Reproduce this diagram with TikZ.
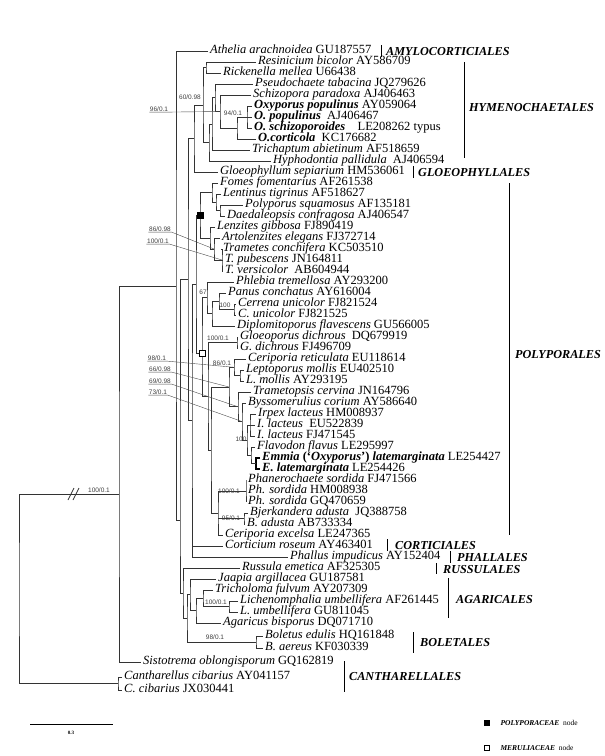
\documentclass[tikz,border=0pt]{standalone}
\usepackage{fontspec}
\setmainfont{Liberation Serif}
\newfontfamily\bsfont{Liberation Sans}

\begin{document}
\begin{tikzpicture}[x=1pt,y=-1pt,
  leaf/.style={anchor=west,inner xsep=2pt,inner ysep=0pt,text height=7.5pt,text depth=2pt,font=\fontsize{12.5}{13}\selectfont},
  br/.style={draw=black!80,line width=0.7pt},
  bs/.style={font=\bsfont\fontsize{6.5}{7}\selectfont,text=black!75,inner sep=0.5pt},
  lead/.style={draw=black!70,line width=0.4pt},
  ord/.style={anchor=west,inner sep=0pt,text height=8pt,text depth=0pt,font=\bfseries\itshape\fontsize{12.2}{13}\selectfont},
  obar/.style={draw=black,line width=0.9pt},
  nodemark/.style={draw=black,line width=0.6pt,minimum size=6pt,inner sep=0pt}]
\useasboundingbox (0,0) rectangle (605,756);

% leaves
\path (208,51) node[leaf] (L1) {\textit{Athelia arachnoidea} GU187557};
\path (256,62) node[leaf] (L2) {\textit{Resinicium bicolor} AY586709};
\path (221,73) node[leaf] (L3) {\textit{Rickenella mellea} U66438};
\path (253,84) node[leaf] (L4) {\textit{Pseudochaete tabacina} JQ279626};
\path (251,95) node[leaf] (L5) {\textit{Schizopora paradoxa} AJ406463};
\path (252,106) node[leaf] (L6) {\textbf{\textit{Oxyporus populinus}} AY059064};
\path (252,117) node[leaf] (L7) {\textbf{\textit{O. populinus}}\enspace AJ406467};
\path (252,128) node[leaf] (L8) {\textbf{\textit{O. schizoporoides}}\quad LE208262 typus};
\path (256,139) node[leaf] (L9) {\textbf{\textit{O.corticola}}\enspace KC176682};
\path (250,150) node[leaf] (L10) {\textit{Trichaptum abietinum} AF518659};
\path (271,161) node[leaf] (L11) {\textit{Hyphodontia pallidula}\enspace AJ406594};
\path (218,172) node[leaf] (L12) {\textit{Gloeophyllum sepiarium} HM536061};
\path (218,183) node[leaf] (L13) {\textit{Fomes fomentarius} AF261538};
\path (221,194) node[leaf] (L14) {\textit{Lentinus tigrinus} AF518627};
\path (243,205) node[leaf] (L15) {\textit{Polyporus squamosus} AF135181};
\path (225,216) node[leaf] (L16) {\textit{Daedaleopsis confragosa} AJ406547};
\path (215,227) node[leaf] (L17) {\textit{Lenzites gibbosa} FJ890419};
\path (220,238) node[leaf] (L18) {\textit{Artolenzites elegans} FJ372714};
\path (221,249) node[leaf] (L19) {\textit{Trametes conchifera} KC503510};
\path (223,260) node[leaf] (L20) {\textit{T. pubescens} JN164811};
\path (223,271) node[leaf] (L21) {\textit{T. versicolor}\enspace AB604944};
\path (234,282) node[leaf] (L22) {\textit{Phlebia tremellosa} AY293200};
\path (226,293) node[leaf] (L23) {\textit{Panus conchatus} AY616004};
\path (236,304) node[leaf] (L24) {\textit{Cerrena unicolor} FJ821524};
\path (236,315) node[leaf] (L25) {\textit{C. unicolor} FJ821525};
\path (235,326) node[leaf] (L26) {\textit{Diplomitoporus flavescens} GU566005};
\path (238,337) node[leaf] (L27) {\textit{Gloeoporus dichrous}\enspace DQ679919};
\path (238,348) node[leaf] (L28) {\textit{G. dichrous} FJ496709};
\path (246,359) node[leaf] (L29) {\textit{Ceriporia reticulata} EU118614};
\path (244,370) node[leaf] (L30) {\textit{Leptoporus mollis} EU402510};
\path (244,381) node[leaf] (L31) {\textit{L. mollis} AY293195};
\path (251,392) node[leaf] (L32) {\textit{Trametopsis cervina} JN164796};
\path (246,403) node[leaf] (L33) {\textit{Byssomerulius corium} AY586640};
\path (256,414) node[leaf] (L34) {\textit{Irpex lacteus} HM008937};
\path (255,425) node[leaf] (L35) {\textit{I. lacteus}\enspace EU522839};
\path (255,436) node[leaf] (L36) {\textit{I. lacteus} FJ471545};
\path (255,447) node[leaf] (L37) {\textit{Flavodon flavus} LE295997};
\path (260,458) node[leaf] (L38) {\textbf{\textit{Emmia} (`\textit{Oxyporus}') \textit{latemarginata}} LE254427};
\path (260,469) node[leaf] (L39) {\textbf{\textit{E. latemarginata}} LE254426};
\path (246,480) node[leaf] (L40) {\textit{Phanerochaete sordida} FJ471566};
\path (246,491) node[leaf] (L41) {\textit{Ph. sordida} HM008938};
\path (246,502) node[leaf] (L42) {\textit{Ph. sordida} GQ470659};
\path (248,513) node[leaf] (L43) {\textit{Bjerkandera adusta}\enspace JQ388758};
\path (245,524) node[leaf] (L44) {\textit{B. adusta} AB733334};
\path (223,535) node[leaf] (L45) {\textit{Ceriporia excelsa} LE247365};
\path (223,546) node[leaf] (L46) {\textit{Corticium roseum} AY463401};
\path (288,557) node[leaf] (L47) {\textit{Phallus impudicus} AY152404};
\path (240,568) node[leaf] (L48) {\textit{Russula emetica} AF325305};
\path (216,579) node[leaf] (L49) {\textit{Jaapia argillacea} GU187581};
\path (213,590) node[leaf] (L50) {\textit{Tricholoma fulvum} AY207309};
\path (238,601) node[leaf] (L51) {\textit{Lichenomphalia umbellifera} AF261445};
\path (238,612) node[leaf] (L52) {\textit{L. umbellifera} GU811045};
\path (221,623) node[leaf] (L53) {\textit{Agaricus bisporus} DQ071710};
\path (263,636) node[leaf] (L54) {\textit{Boletus edulis} HQ161848};
\path (263,648) node[leaf] (L55) {\textit{B. aereus} KF030339};
\path (141,662) node[leaf] (L56) {\textit{Sistotrema oblongisporum} GQ162819};
\path (122,677) node[leaf] (L57) {\textit{Cantharellus cibarius} AY041157};
\path (122,690) node[leaf] (L58) {\textit{C. cibarius} JX030441};

% inner nodes
\coordinate (Nrr) at (206,67.5);
\coordinate (Not) at (247,117);
\coordinate (Noc) at (237,128);
\coordinate (Nsc) at (220,111.5);
\coordinate (Nps) at (215,97.8);
\coordinate (Ntr) at (212,123.9);
\coordinate (Nhy) at (209,142.4);
\coordinate (Nhym) at (203,105);
\coordinate (Ng) at (194,138.5);
\coordinate (Npd) at (220,210.5);
\coordinate (Nlt) at (216,202.3);
\coordinate (Nfo) at (212,192.6);
\coordinate (Ntm) at (222,260);
\coordinate (Nar) at (214,249);
\coordinate (Nlz) at (210,238);
\coordinate (Npp) at (200,215.3);
\coordinate (Ncr) at (234,309.5);
\coordinate (Npn) at (219,301.3);
\coordinate (Npf) at (212,313.6);
\coordinate (N67) at (207,297.8);
\coordinate (Ngd) at (237,342.5);
\coordinate (Nlp) at (240,375.5);
\coordinate (Ncx) at (234,367.3);
\coordinate (Nem) at (256,463.5);
\coordinate (Nfl) at (251,455.3);
\coordinate (Nir) at (250,425);
\coordinate (Nih) at (247,440);
\coordinate (Nby) at (242,421.5);
\coordinate (Ntp) at (238,406.8);
\coordinate (Ncb) at (229,387);
\coordinate (Nph) at (246,491);
\coordinate (Nbj) at (244,518.5);
\coordinate (Npb) at (218,513);
\coordinate (Nrs) at (211,450);
\coordinate (Nlo) at (208,396.3);
\coordinate (Nme) at (202,353);
\coordinate (Np) at (196,284);
\coordinate (Npc) at (192,420);
\coordinate (Nmn) at (188,279);
\coordinate (Nlc) at (229,606.5);
\coordinate (Ntl) at (203,598.3);
\coordinate (Nta) at (196,610.6);
\coordinate (Nag) at (190,594.8);
\coordinate (Nbo) at (256,642);
\coordinate (Nab) at (187,618.4);
\coordinate (Nrb) at (183,593.2);
\coordinate (N3) at (180,520);
\coordinate (N2) at (176,286);
\coordinate (N1) at (119,494);
\coordinate (Nca) at (118,683.5);
\coordinate (N0) at (19,590);

% Hymenochaetales, Gloeophyllales
\draw[br] (L2.west) -| (Nrr) |- (L3.west);
\draw[br] (L6.west) -| (Not) |- (L8.west);
\draw[br] (Not |- L7.west) -- (L7.west);
\draw[br] (Not) -| (Noc) |- (L9.west);
\draw[br] (L5.west) -| (Nsc) |- (Noc);
\draw[br] (L4.west) -| (Nps) |- (Nsc);
\draw[br] (Nps) -| (Ntr) |- (L10.west);
\draw[br] (Ntr) -| (Nhy) |- (L11.west);
\draw[br] (Nrr) -| (Nhym) |- (Nhy);
\draw[br] (Nhym) -| (Ng) |- (L12.west);

% Polyporales
\draw[br] (L15.west) -| (Npd) |- (L16.west);
\draw[br] (L14.west) -| (Nlt) |- (Npd);
\draw[br] (L13.west) -| (Nfo) |- (Nlt);
\draw[br] (L19.west) -| (Ntm) |- (L21.west);
\draw[br] (Ntm |- L20.west) -- (L20.west);
\draw[br] (L18.west) -| (Nar) |- (Ntm);
\draw[br] (L17.west) -| (Nlz) |- (Nar);
\draw[br] (Nfo) -| (Npp) |- (Nlz);
\draw[br] (L24.west) -| (Ncr) |- (L25.west);
\draw[br] (L23.west) -| (Npn) |- (Ncr);
\draw[br] (Npn) -| (Npf) |- (L26.west);
\draw[br] (L22.west) -| (N67) |- (Npf);
\draw[br] (L27.west) -| (Ngd) |- (L28.west);
\draw[br] (L30.west) -| (Nlp) |- (L31.west);
\draw[br] (L29.west) -| (Ncx) |- (Nlp);
\draw[br,draw=black,line width=1.4pt] (L38.west) -| (Nem) |- (L39.west);
\draw[br] (L37.west) -| (Nfl) |- (Nem);
\draw[br] (L34.west) -| (Nir) |- (L36.west);
\draw[br] (Nir |- L35.west) -- (L35.west);
\draw[br] (Nir) -| (Nih) |- (Nfl);
\draw[br] (L33.west) -| (Nby) |- (Nih);
\draw[br] (L32.west) -| (Ntp) |- (Nby);
\draw[br] (Ncx) -| (Ncb) |- (Ntp);
\draw[br] (L40.west) -| (Nph) |- (L42.west);
\draw[br] (Nph |- L41.west) -- (L41.west);
\draw[br] (L43.west) -| (Nbj) |- (L44.west);
\draw[br] (Nph) -| (Npb) |- (L45.west);
\draw[br] (Npb |- Nbj) -- (Nbj);
\draw[br] (Ncb) -| (Nrs) |- (Npb);
\draw[br] (Ngd) -| (Nlo) |- (Nrs);
\draw[br] (N67) -| (Nme) |- (Nlo);
\draw[br] (Npp) -| (Np) |- (Nme);
\draw[br] (Np) -| (Npc) |- (L47.west);
\draw[br] (Npc |- L46.west) -- (L46.west);
\draw[br] (Ng) -| (Nmn) |- (Npc);

% Agaricales, Boletales, root
\draw[br] (L51.west) -| (Nlc) |- (L52.west);
\draw[br] (L50.west) -| (Ntl) |- (Nlc);
\draw[br] (Ntl) -| (Nta) |- (L53.west);
\draw[br] (L49.west) -| (Nag) |- (Nta);
\draw[br] (L54.west) -| (Nbo) |- (L55.west);
\draw[br] (Nag) -| (Nab) |- (Nbo);
\draw[br] (L48.west) -| (Nrb) |- (Nab);
\draw[br] (Nmn) -| (N3) |- (Nrb);
\draw[br] (L1.west) -| (N2) |- (N3);
\draw[br] (N2) -| (N1) |- (L56.west);
\draw[br] (L57.west) -| (Nca) |- (L58.west);
\draw[br] (N1) -| (N0) |- (Nca);
\draw[br] (68,500) -- (74,488) (73,500) -- (79,488);

% node marks
\node[nodemark,fill=black] (mpoly) at (Npp) {};
\node[nodemark,fill=white] (mmeru) at (Nme) {};

% support values
\node[bs] (b60) at (190,97) {60/0.98};
\node[bs] (b94) at (233,113) {94/0.1};
\node[bs] (b96) at (159,109) {96/0.1};
\node[bs] (b86a) at (160,229) {86/0.98};
\node[bs] (b100a) at (158,241) {100/0.1};
\node[bs] (b67) at (203,292) {67};
\node[bs] (b100b) at (225,305) {100};
\node[bs] (b100c) at (218,338) {100/0.1};
\node[bs] (b86b) at (222,363) {86/0.1};
\node[bs] (b98a) at (157,358) {98/0.1};
\node[bs] (b66) at (160,369) {66/0.98};
\node[bs] (b69) at (160,381) {69/0.98};
\node[bs] (b73) at (158,392) {73/0.1};
\node[bs] (b100d) at (241,439) {100};
\node[bs] (b100e) at (229,491) {100/0.1};
\node[bs] (b95) at (231,518) {95/0.1};
\node[bs] (b100f) at (216,602) {100/0.1};
\node[bs] (b98b) at (215,637) {98/0.1};
\node[bs] (b100g) at (99,490) {100/0.1};
\draw[lead] (b96.south west) -- (b96.south east) -- (Nsc);
\draw[lead] (b86a.south west) -- (b86a.south east) -- (Nar);
\draw[lead] (b100a.south west) -- (b100a.south east) -- (Ntm);
\draw[lead] (b98a.south west) -- (b98a.south east) -- (Ncx);
\draw[lead] (b66.south west) -- (b66.south east) -- (Ncb);
\draw[lead] (b69.south west) -- (b69.south east) -- (Ntp);
\draw[lead] (b73.south west) -- (b73.south east) -- (Nby);

% orders
\draw[obar] (381,45) -- (381,57);
\node[ord] (oamy) at (386,51) {AMYLOCORTICIALES};
\draw[obar] (464,62) -- (464,158);
\node[ord] (ohym) at (469,107) {HYMENOCHAETALES};
\draw[obar] (413,166) -- (413,178);
\node[ord] (oglo) at (418,172) {GLOEOPHYLLALES};
\draw[obar] (509,183) -- (509,535);
\node[ord] (opol) at (515,354) {POLYPORALES};
\draw[obar] (387,539) -- (387,551);
\node[ord] (ocor) at (395,545) {CORTICIALES};
\draw[obar] (450,551) -- (450,563);
\node[ord] (opha) at (457,557) {PHALLALES};
\draw[obar] (436,563) -- (436,574);
\node[ord] (orus) at (443,569) {RUSSULALES};
\draw[obar] (448,578) -- (448,618);
\node[ord] (oaga) at (456,599) {AGARICALES};
\draw[obar] (413,632) -- (413,653);
\node[ord] (obol) at (420,642) {BOLETALES};
\draw[obar] (344,661) -- (344,692);
\node[ord] (ocan) at (349,676) {CANTHARELLALES};

% scale and key
\coordinate (s0) at (30,724);
\coordinate (s1) at (113,724);
\draw[line width=0.8pt] (s0) -- (s1);
\node[font=\bfseries\fontsize{5}{6}\selectfont] (sl) at (71,733) {0.3};
\node[nodemark,minimum size=5pt,fill=black] (kpoly) at (487,723) {};
\node[anchor=west,font=\fontsize{7.5}{8}\selectfont] (tpoly) at (497,723) {\textbf{\textit{POLYPORACEAE}}\enspace node};
\node[nodemark,minimum size=5pt,fill=white] (kmeru) at (487,748) {};
\node[anchor=west,font=\fontsize{7.5}{8}\selectfont] (tmeru) at (497,748) {\textbf{\textit{MERULIACEAE}}\enspace node};

\end{tikzpicture}
\end{document}
